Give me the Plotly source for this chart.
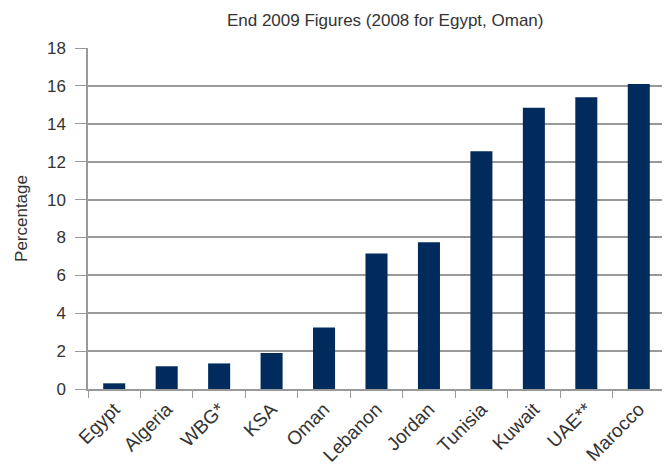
import plotly.graph_objects as go

categories = ["Egypt", "Algeria", "WBG*", "KSA", "Oman", "Lebanon", "Jordan",
              "Tunisia", "Kuwait", "UAE**", "Marocco"]
values = [0.3, 1.2, 1.35, 1.9, 3.25, 7.15, 7.75, 12.55, 14.85, 15.4, 16.1]

fig = go.Figure(go.Bar(x=categories, y=values, marker_color="#002B5C",
                       marker_line_width=0, width=0.42))

fig.update_layout(
    width=670, height=466,
    margin=dict(l=80, r=13, t=40, b=85),
    paper_bgcolor="white", plot_bgcolor="white",
    font=dict(family="Liberation Sans, Arial, sans-serif", size=17, color="#333333"),
    title=dict(text="End 2009 Figures (2008 for Egypt, Oman)", x=0.563, xanchor="center",
               y=0.974, yanchor="middle", font=dict(size=17, color="#333333")),
    showlegend=False,
)
fig.update_xaxes(
    tickangle=-45, tickson="boundaries", ticks="outside", ticklen=7,
    tickcolor="#999999", showline=True, linecolor="#999999", linewidth=1.5,
    showgrid=False, tickfont=dict(size=19), automargin=False,
)
fig.update_yaxes(
    range=[0, 18], dtick=2, ticks="outside", ticklen=11, tickcolor="#999999",
    showline=True, linecolor="#999999", linewidth=1.5,
    showgrid=True, gridcolor="#999999", gridwidth=1.5, zeroline=False,
    ticklabelstandoff=6,
    title=dict(text="Percentage", font=dict(size=17), standoff=15),
    tickfont=dict(size=17), automargin=False,
)

fig.write_html("out.html")
